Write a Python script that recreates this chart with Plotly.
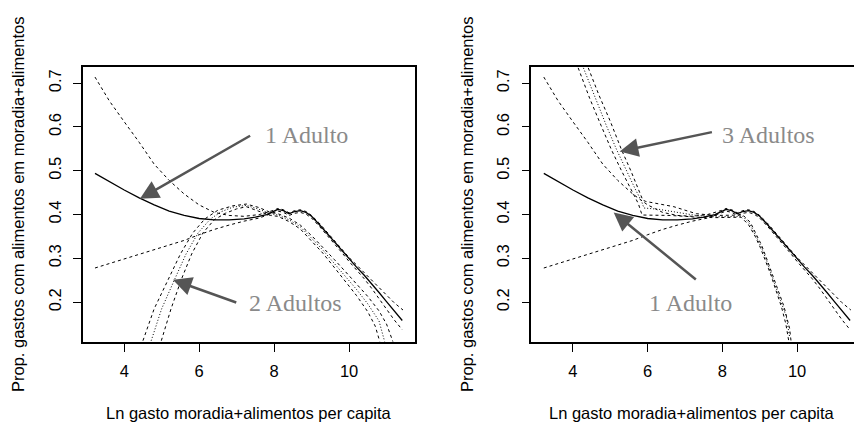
import plotly.graph_objects as go

# ---------------- data ----------------
# 1 Adulto: central estimate (solid) and its two dashed bands
one_x = [3.22, 3.6, 4.0, 4.4, 4.8, 5.2, 5.6, 6.0, 6.4, 6.8, 7.2, 7.5, 7.8, 8.0, 8.1, 8.25,
         8.4, 8.55, 8.7, 8.85, 9.0, 9.2, 9.4, 9.6, 9.8, 10.0, 10.2, 10.4, 10.6, 10.8, 11.0, 11.2, 11.42]
one_y = [0.494, 0.475, 0.456, 0.438, 0.422, 0.408, 0.398, 0.391, 0.388, 0.388, 0.390, 0.394,
         0.400, 0.408, 0.412, 0.409, 0.402, 0.407, 0.409, 0.405, 0.396, 0.378, 0.358, 0.340,
         0.318, 0.298, 0.280, 0.262, 0.243, 0.222, 0.201, 0.180, 0.158]

one_up_x = [3.22, 3.6, 4.0, 4.4, 4.8, 5.2, 5.6, 6.0, 6.4, 6.8, 7.2, 7.6, 8.0, 8.1, 8.25, 8.4,
            8.55, 8.7, 8.85, 9.0, 9.2, 9.4, 9.6, 9.8, 10.0, 10.2, 10.4, 10.6, 10.8, 11.0, 11.2, 11.44]
one_up_y = [0.714, 0.660, 0.612, 0.565, 0.515, 0.478, 0.447, 0.422, 0.405, 0.398, 0.396, 0.400,
            0.410, 0.414, 0.411, 0.404, 0.409, 0.411, 0.407, 0.398, 0.381, 0.361, 0.343, 0.322,
            0.302, 0.285, 0.268, 0.252, 0.234, 0.216, 0.199, 0.182]

one_lo_x = [3.22, 4.0, 4.8, 5.6, 6.0, 6.4, 6.8, 7.2, 7.6, 8.0, 8.1, 8.25, 8.4, 8.55, 8.7, 8.85,
            9.0, 9.2, 9.4, 9.6, 9.8, 10.0, 10.2, 10.4, 10.6, 10.8, 11.0, 11.2, 11.42]
one_lo_y = [0.278, 0.299, 0.320, 0.341, 0.354, 0.366, 0.376, 0.385, 0.392, 0.404, 0.408, 0.405,
            0.398, 0.403, 0.405, 0.401, 0.392, 0.374, 0.354, 0.336, 0.314, 0.293, 0.274, 0.254,
            0.232, 0.208, 0.184, 0.160, 0.137]

# 2 Adultos (left panel): centre and bands
two_mid_x = [4.72, 5.0, 5.34, 5.65, 5.97, 6.3, 6.6, 6.9, 7.26, 7.6, 7.9, 8.1, 8.4, 8.7, 9.0,
             9.3, 9.6, 9.9, 10.2, 10.5, 10.8, 10.95]
two_mid_y = [0.112, 0.185, 0.251, 0.31, 0.358, 0.39, 0.407, 0.417, 0.421, 0.412, 0.402, 0.399,
             0.388, 0.372, 0.346, 0.319, 0.289, 0.259, 0.229, 0.196, 0.157, 0.11]
two_up_x = [4.50, 4.8, 5.17, 5.5, 5.83, 6.15, 6.5, 6.9, 7.26, 7.6, 7.9, 8.1, 8.4, 8.7, 9.0,
            9.3, 9.6, 9.9, 10.2, 10.5, 10.8, 11.0, 11.17]
two_up_y = [0.112, 0.185, 0.251, 0.31, 0.358, 0.39, 0.41, 0.42, 0.424, 0.416, 0.405, 0.402,
            0.392, 0.376, 0.352, 0.326, 0.298, 0.270, 0.242, 0.213, 0.180, 0.150, 0.11]
two_lo_x = [4.99, 5.25, 5.52, 5.8, 6.1, 6.4, 6.7, 7.0, 7.26, 7.6, 7.9, 8.1, 8.4, 8.7, 9.0,
            9.3, 9.6, 9.9, 10.2, 10.5, 10.7, 10.82]
two_lo_y = [0.112, 0.185, 0.251, 0.31, 0.358, 0.388, 0.403, 0.413, 0.418, 0.408, 0.398, 0.396,
            0.384, 0.367, 0.340, 0.312, 0.280, 0.248, 0.215, 0.178, 0.145, 0.11]

# 3 Adultos (right panel): centre and bands
three_mid_x = [4.28, 4.6, 4.9, 5.17, 5.45, 5.68, 5.83, 5.9, 6.3, 6.8, 7.3, 7.8, 8.2, 8.55,
               8.75, 8.91, 9.05, 9.18, 9.32, 9.45, 9.6, 9.71, 9.80]
three_mid_y = [0.735, 0.665, 0.602, 0.548, 0.497, 0.456, 0.432, 0.415, 0.412, 0.405, 0.398,
               0.395, 0.396, 0.396, 0.377, 0.35, 0.324, 0.296, 0.262, 0.228, 0.195, 0.167, 0.121]
three_up_x = [4.41, 4.7, 5.0, 5.30, 5.55, 5.77, 5.87, 5.95, 6.3, 6.7, 7.0, 7.3, 7.8, 8.2, 8.55,
              8.75, 8.91, 9.05, 9.2, 9.35, 9.5, 9.65, 9.8, 9.84]
three_up_y = [0.735, 0.672, 0.613, 0.548, 0.50, 0.456, 0.433, 0.43, 0.424, 0.418, 0.41, 0.402,
              0.398, 0.399, 0.399, 0.382, 0.356, 0.33, 0.296, 0.26, 0.225, 0.19, 0.14, 0.11]
three_lo_x = [4.14, 4.45, 4.75, 5.03, 5.3, 5.57, 5.75, 5.85, 6.2, 6.6, 7.0, 7.3, 7.8, 8.2, 8.5,
              8.7, 8.88, 9.02, 9.15, 9.3, 9.43, 9.58, 9.7, 9.78]
three_lo_y = [0.735, 0.665, 0.604, 0.548, 0.50, 0.456, 0.425, 0.399, 0.399, 0.398, 0.396, 0.394,
              0.393, 0.394, 0.394, 0.377, 0.35, 0.324, 0.296, 0.262, 0.228, 0.19, 0.15, 0.11]

x_ticks = [4, 6, 8, 10]
y_ticks = [0.2, 0.3, 0.4, 0.5, 0.6, 0.7]
y_tick_text = ["0.2", "0.3", "0.4", "0.5", "0.6", "0.7"]

x_title = "Ln gasto moradia+alimentos per capita"
y_title = "Prop. gastos com alimentos em moradia+alimentos"

# ---------------- figure ----------------
fig = go.Figure()

SOLID = dict(color="#000000", width=1.3)
BAND = dict(color="#000000", width=1, dash="3px,3px")
MID = dict(color="#000000", width=1, dash="1px,2px")


def add_one_adult(xa, ya):
    fig.add_trace(go.Scatter(x=one_up_x, y=one_up_y, mode="lines", line=BAND, xaxis=xa, yaxis=ya))
    fig.add_trace(go.Scatter(x=one_lo_x, y=one_lo_y, mode="lines", line=BAND, xaxis=xa, yaxis=ya))
    fig.add_trace(go.Scatter(x=one_x, y=one_y, mode="lines", line=SOLID, xaxis=xa, yaxis=ya))


add_one_adult("x", "y")
for xs, ys, ln in [(two_up_x, two_up_y, BAND), (two_lo_x, two_lo_y, BAND), (two_mid_x, two_mid_y, MID)]:
    fig.add_trace(go.Scatter(x=xs, y=ys, mode="lines", line=ln, xaxis="x", yaxis="y"))

add_one_adult("x2", "y2")
for xs, ys, ln in [(three_up_x, three_up_y, BAND), (three_lo_x, three_lo_y, BAND),
                   (three_mid_x, three_mid_y, MID)]:
    fig.add_trace(go.Scatter(x=xs, y=ys, mode="lines", line=ln, xaxis="x2", yaxis="y2"))

FONT = "Liberation Sans, Arial, sans-serif"
W, H = 854, 426
ydom = [(H - 342) / H, (H - 67) / H]

xcommon = dict(tickvals=x_ticks, ticks="outside", ticklen=8, tickwidth=1, tickcolor="#000",
               showline=True, linecolor="#000", linewidth=1.5, showgrid=False, zeroline=False,
               tickfont=dict(family=FONT, size=16.5, color="#000"), ticklabelstandoff=5)
ycommon = dict(tickvals=y_ticks, ticktext=y_tick_text, ticks="outside", ticklen=8, tickwidth=1,
               tickcolor="#000", showline=True, linecolor="#000", linewidth=1.5, showgrid=False,
               zeroline=False, tickangle=-90,
               tickfont=dict(family=FONT, size=16.5, color="#000"), ticklabelstandoff=6)

fig.update_layout(
    width=W, height=H,
    margin=dict(l=0, r=0, t=0, b=0),
    paper_bgcolor="white", plot_bgcolor="white",
    showlegend=False,
    xaxis=dict(domain=[83 / W, 415 / W], range=[2.9, 11.76], mirror=True, anchor="y", **xcommon),
    yaxis=dict(domain=ydom, range=[0.109, 0.737], mirror=True, anchor="x", **ycommon),
    xaxis2=dict(domain=[531.3 / W, 1.0], range=[2.885, 11.524], mirror=True, anchor="y2", **xcommon),
    yaxis2=dict(domain=ydom, range=[0.109, 0.737], mirror=False, anchor="x2", **ycommon),
)

# axis titles as annotations (paper coordinates)
for cx in [249 / W, 692 / W]:
    fig.add_annotation(text=x_title, x=cx, y=(H - 413) / H, xref="paper", yref="paper",
                       showarrow=False, font=dict(family=FONT, size=16.5, color="#000"),
                       xanchor="center", yanchor="middle")
for cx in [18 / W, 467 / W]:
    fig.add_annotation(text=y_title, x=cx, y=(H - 204) / H, xref="paper", yref="paper",
                       showarrow=False, textangle=-90, font=dict(family=FONT, size=16.5, color="#000"),
                       xanchor="center", yanchor="middle")

# labels + arrows
LBL = dict(family="Liberation Serif, Times New Roman, serif", size=24, color="#8a8a8a")
ARR = dict(showarrow=True, arrowhead=2, arrowsize=1.5, arrowwidth=2.5, arrowcolor="#555555")

fig.add_annotation(x=4.42, y=0.436, ax=7.40, ay=0.582, xref="x", yref="y", axref="x", ayref="y",
                   text="", **ARR)
fig.add_annotation(x=5.30, y=0.251, ax=7.03, ay=0.198, xref="x", yref="y", axref="x", ayref="y",
                   text="", **ARR)
fig.add_annotation(x=5.25, y=0.544, ax=7.76, ay=0.589, xref="x2", yref="y2", axref="x2", ayref="y2",
                   text="", **ARR)
fig.add_annotation(x=5.09, y=0.405, ax=7.33, ay=0.249, xref="x2", yref="y2", axref="x2", ayref="y2",
                   text="", **ARR)

for txt, px, py in [("1 Adulto", 306, 135), ("2 Adultos", 295, 303),
                    ("3 Adultos", 768, 135), ("1 Adulto", 690, 303)]:
    fig.add_annotation(text=txt, x=px / W, y=(H - py) / H, xref="paper", yref="paper",
                       showarrow=False, font=LBL, xanchor="center", yanchor="middle")

fig.write_html("out.html", config={"displayModeBar": False},
               post_script="document.body.style.margin='0px';")
